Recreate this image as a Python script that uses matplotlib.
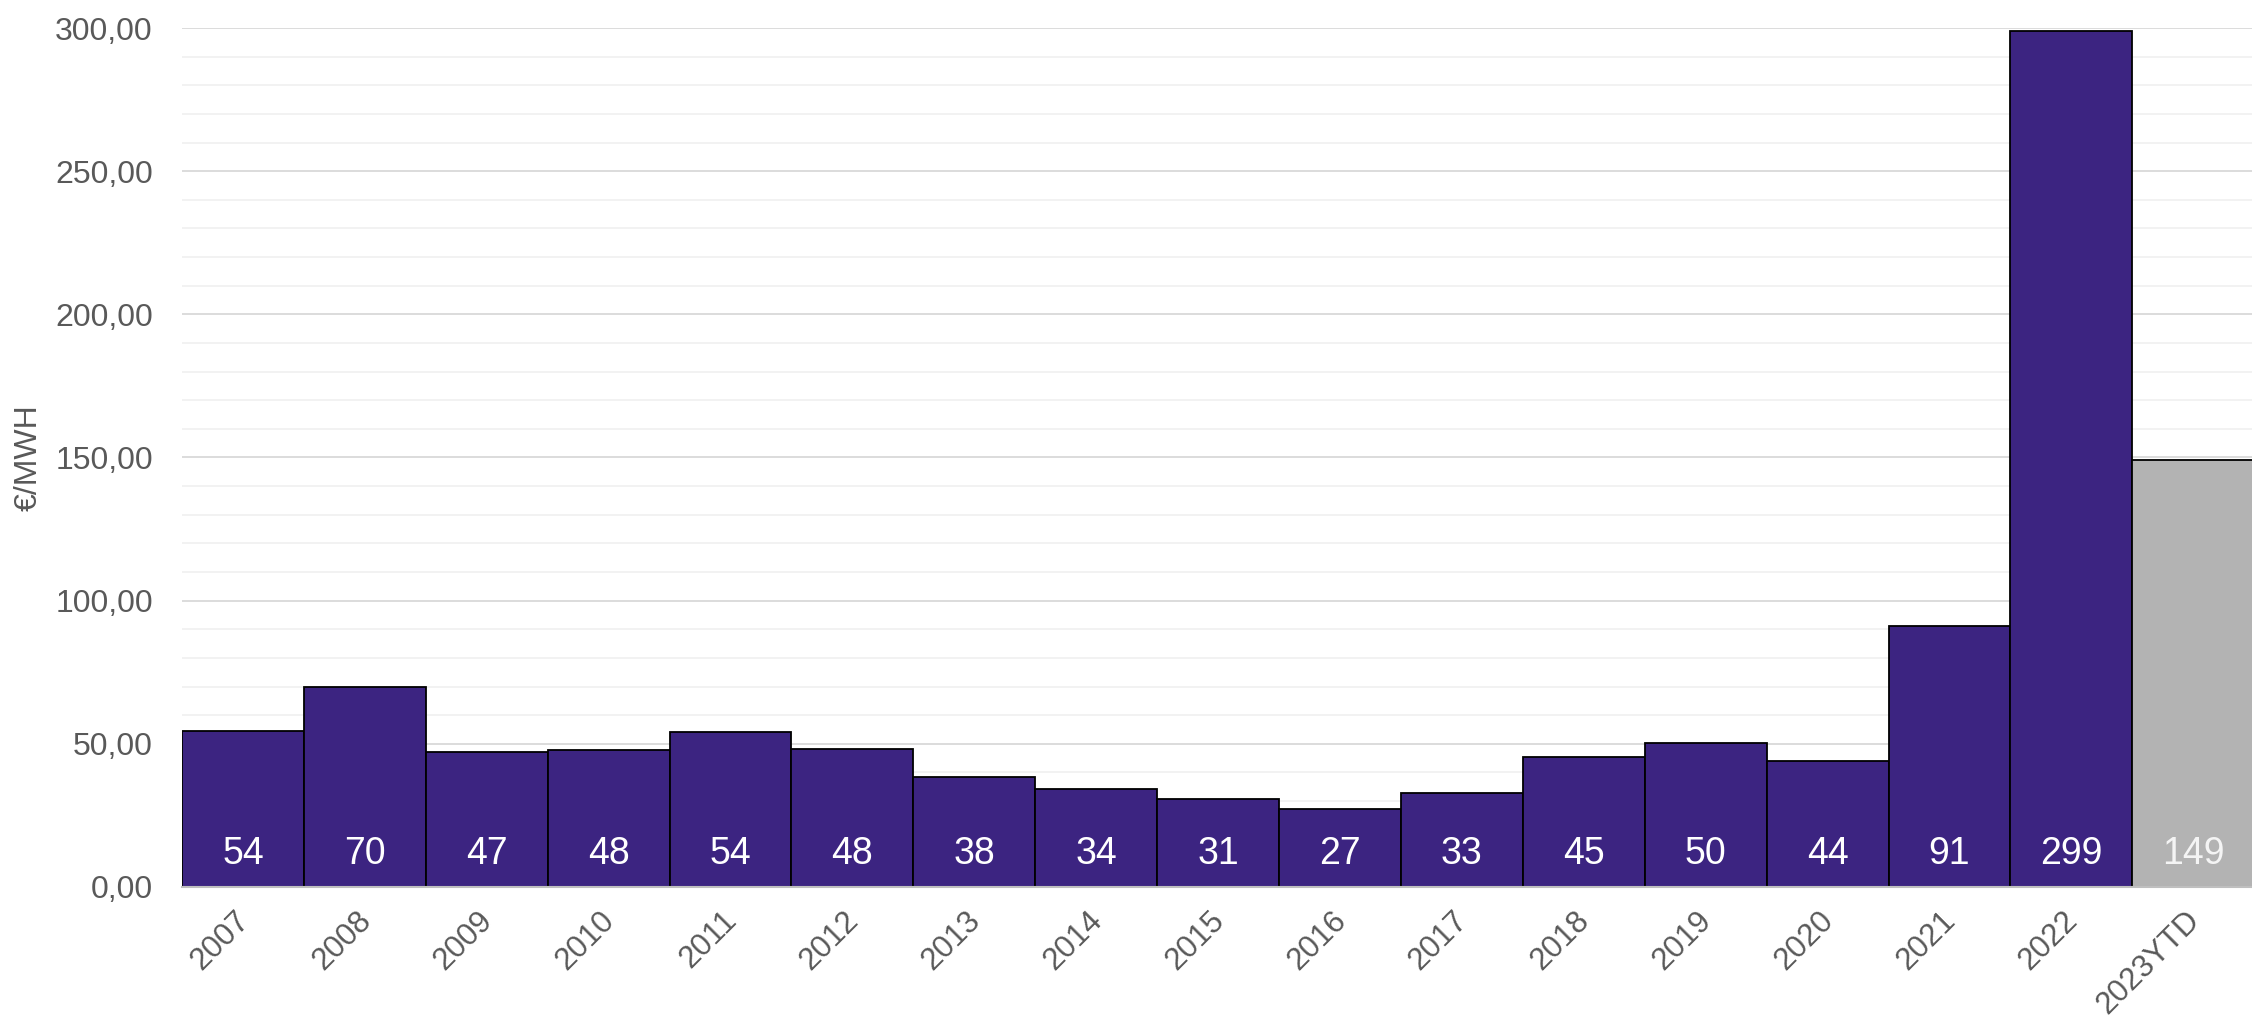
import numpy as np
from matplotlib import pyplot as plt
from matplotlib.ticker import MultipleLocator, FuncFormatter
from matplotlib.transforms import ScaledTranslation

years = ["2007", "2008", "2009", "2010", "2011", "2012", "2013", "2014", "2015",
         "2016", "2017", "2018", "2019", "2020", "2021", "2022", "2023YTD"]
prices = [54.4, 69.8, 47.3, 47.8, 54.2, 48.1, 38.3, 34.4, 30.8,
          27.2, 32.9, 45.3, 50.4, 44.0, 91.0, 299.0, 149.2]
ytd_flag = [False] * 16 + [True]

purple = "#3c2481"
grey = "#b3b3b3"
text_grey = "#595959"

plt.rcParams['font.family'] = ['Liberation Sans', 'DejaVu Sans']

fig = plt.figure(figsize=(22.52, 10.19), dpi=100)
ax = fig.add_axes([182 / 2252, 1 - 887 / 1019, 1 - 182 / 2252 + 0.001, (887 - 28) / 1019])

x = np.arange(len(years))
colors = [grey if f else purple for f in ytd_flag]
bars = ax.bar(x, prices, width=1.0, color=colors, edgecolor="black", linewidth=1.3, zorder=3)

for xi, v, f in zip(x, prices, ytd_flag):
    ax.text(xi, 11.5, f"{v:.0f}", ha="center", va="center", fontsize=27,
            color="#f4f4f4" if f else "white", zorder=4)

ax.set_xlim(-0.5, 16.5)
ax.set_ylim(0, 300)
ax.yaxis.set_major_locator(MultipleLocator(50))
ax.yaxis.set_minor_locator(MultipleLocator(10))
ax.yaxis.set_major_formatter(FuncFormatter(lambda v, p: f"{v:.2f}".replace(".", ",")))
ax.grid(axis="y", which="major", color="#d9d9d9", linewidth=1.3, zorder=0)
ax.grid(axis="y", which="minor", color="#f0f0f0", linewidth=1.2, zorder=0)

for s in ["top", "right", "left"]:
    ax.spines[s].set_visible(False)
ax.spines["bottom"].set_color("#bfbfbf")
ax.spines["bottom"].set_linewidth(1.5)
ax.spines["bottom"].set_zorder(5)

ax.set_xticks(x)
ax.set_xticklabels(years, rotation=45, ha="right", rotation_mode="anchor")
ax.tick_params(axis="x", length=0, pad=13, labelsize=22.5, labelcolor=text_grey)
ax.tick_params(axis="y", which="both", length=0, pad=21, labelsize=23, labelcolor=text_grey)
shift = ScaledTranslation(-9 / 100, 0, fig.dpi_scale_trans)
for lbl in ax.get_xticklabels():
    lbl.set_transform(lbl.get_transform() + shift)

ax.set_ylabel("€/MWH", fontsize=23, color=text_grey)
ax.yaxis.set_label_coords((44 - 182) / 2070, 0.5)

fig.savefig("out.png", dpi=100)
